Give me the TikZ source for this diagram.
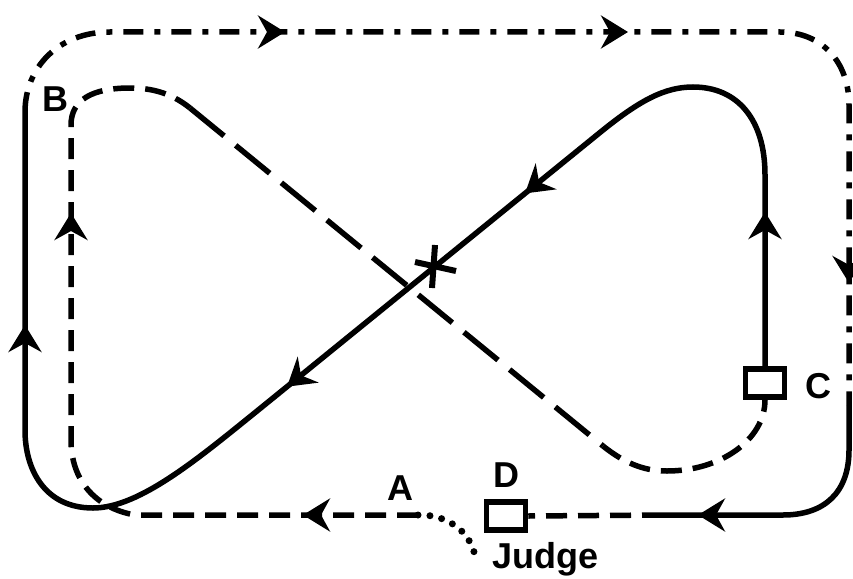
\documentclass[tikz,border=0pt]{standalone}
\usepackage{fontspec}
\setmainfont{Liberation Sans}
\usetikzlibrary{arrows.meta}
\begin{document}
\begin{tikzpicture}[x=1pt,y=-1pt,line width=5.5pt,
  shortdash/.style={dash pattern=on 21pt off 11pt},
  longdash/.style={dash pattern=on 44pt off 15pt},
  dashdotline/.style={dash pattern=on 20pt off 11pt on 6pt off 11pt},
  dotline/.style={dash pattern=on 0pt off 12pt, line cap=round, line width=7pt},
  tipline/.style={-{Stealth[length=27pt,width=33pt,inset=9pt]}},
  box/.style={draw, minimum width=39pt, minimum height=28pt, inner sep=0pt, line width=5.5pt, fill=white},
  lbl/.style={font=\bfseries\fontsize{36}{36}\selectfont, inner sep=0pt}]
\useasboundingbox (0,0) rectangle (853,578);

% boxes
\node[box] (C) at (765,383) {};
\node[box] (D) at (506,516) {};

% key points
\coordinate (sL) at (25,112);
\coordinate (sR) at (849,405);
\coordinate (sB) at (663,515);
\coordinate (dA) at (418,515);
\coordinate (dTL) at (190,108);
\coordinate (dBR) at (603,446);
\coordinate (jd) at (475,556);

% solid figure-eight line and left side
\draw (C.north) -- (765,175) .. controls (765,120) and (738,87) .. (693,87)
  .. controls (665,87) and (640,100) .. (600,132.5) -- (260,408.6)
  .. controls (200,457) and (140,508) .. (93,508)
  .. controls (45,508) and (25,470) .. (25,430) -- (sL);

% outer dash-dot line
\draw[dashdotline] (sL) .. controls (25,68) and (58,32) .. (110,32) -- (780,32)
  .. controls (822,32) and (849,62) .. (849,105) -- (sR);

% solid lower right
\draw (sR) -- (849,450) .. controls (849,492) and (825,515) .. (783,515) -- (sB);
\draw[shortdash] (sB) -- (D.east);

% inner dashed line
\draw[shortdash] (dA) -- (135,515) .. controls (95,508) and (71,480) .. (71,440)
  -- (71,125) .. controls (71,100) and (92,88) .. (130,88)
  .. controls (150,88) and (170,92) .. (dTL);
\draw[longdash] (dTL) -- (dBR);
\draw[shortdash] (dBR) .. controls (628,466) and (648,471) .. (667,471)
  .. controls (720,471) and (765,440) .. (C.south);

% dotted line to judge
\draw[dotline] (dA) .. controls (445,514) and (470,530) .. (jd);

% X mark
\draw[line width=6pt] (435,245) -- (432,288);
\draw[line width=6pt] (415,262) -- (456,271);

% arrowheads
\draw[tipline] (275,32) -- (285,32);
\draw[tipline] (618,32) -- (628,32);
\draw[tipline] (849,273) -- (849,283);
\draw[tipline] (708,515) -- (698,515);
\draw[tipline] (313,515) -- (303,515);
\draw[tipline] (25,335) -- (25,325);
\draw[tipline] (71,223) -- (71,213);
\draw[tipline] (765,222) -- (765,212);
\draw[tipline] (532.8,187.1) -- (525,193.4);
\draw[tipline] (294.8,380.4) -- (287,386.7);

% labels
\node[lbl] (lB) at (55,99) {B};
\node[lbl] (lC) at (818,386) {C};
\node[lbl] (lA) at (400,488) {A};
\node[lbl] (lD) at (506,475) {D};
\node[lbl, anchor=base west] (lJ) at (490,568) {Judge};
\end{tikzpicture}
\end{document}
